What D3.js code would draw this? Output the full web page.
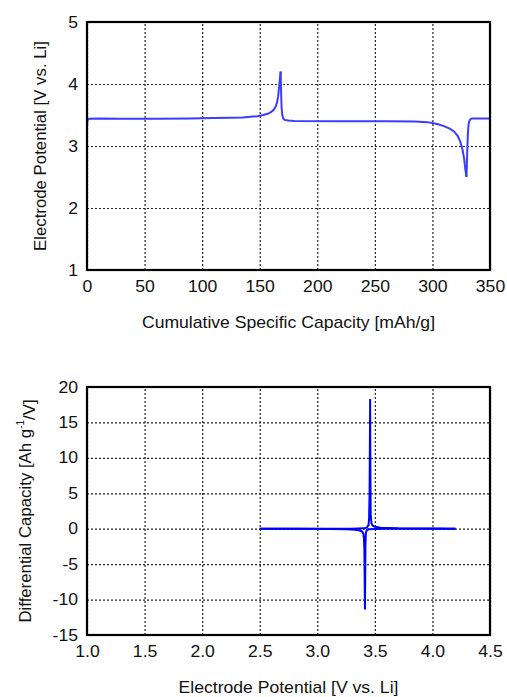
<!DOCTYPE html>
<html><head><meta charset="utf-8">
<script src="https://cdn.jsdelivr.net/npm/d3@7"></script>
<style>
body{margin:0;background:#fff;}
text{font-family:"Liberation Sans",Arial,Helvetica,sans-serif;fill:#111;}
</style></head>
<body><svg id="c" width="507" height="697"></svg>
<script>
// ---- Data: top panel (potential vs cumulative capacity) ----
const capCharge1 = [0, 0.3, 1, 3, 10, 30, 60, 90, 110, 125, 135, 142, 148, 153, 157, 160, 162, 164, 165, 166, 167, 167.6, 168.2];
const vCharge1   = [3.30, 3.40, 3.435, 3.44, 3.445, 3.44, 3.44, 3.445, 3.45, 3.455, 3.46, 3.47, 3.48, 3.50, 3.52, 3.55, 3.58, 3.64, 3.70, 3.80, 3.98, 4.10, 4.20];
const capDischarge = [168.2, 168.6, 169, 169.6, 170.5, 172, 175, 180, 220, 260, 285, 295, 300, 305, 310, 315, 319, 322, 324, 326, 327.5, 328.6, 329.6];
const vDischarge   = [4.20, 3.85, 3.62, 3.50, 3.44, 3.42, 3.41, 3.405, 3.40, 3.40, 3.395, 3.385, 3.37, 3.35, 3.32, 3.28, 3.23, 3.16, 3.08, 2.95, 2.80, 2.62, 2.50];
const capCharge2 = [329.6, 330.2, 330.8, 331.4, 332.2, 333.2, 334.5, 340, 350];
const vCharge2   = [2.50, 2.90, 3.20, 3.35, 3.41, 3.435, 3.445, 3.445, 3.445];

// ---- Data: bottom panel (dQ/dV vs potential) ----
const vDqCharge  = [2.5, 3.0, 3.3, 3.40, 3.43, 3.445, 3.450, 3.454, 3.457, 3.459, 3.461, 3.464, 3.47, 3.48, 3.50, 3.55, 3.7, 4.0, 4.2];
const dqCharge   = [0, 0, 0.01, 0.05, 0.15, 0.5, 1.5, 5, 12, 18.3, 9, 2, 0.8, 0.45, 0.28, 0.14, 0.05, 0.02, 0];
const vDqDischarge = [4.2, 3.8, 3.6, 3.5, 3.45, 3.43, 3.422, 3.418, 3.416, 3.414, 3.412, 3.409, 3.405, 3.40, 3.39, 3.37, 3.33, 3.25, 3.1, 2.8, 2.5];
const dqDischarge  = [0, 0, -0.01, -0.03, -0.08, -0.2, -0.6, -2.5, -7, -11.4, -8, -3, -1.3, -0.7, -0.4, -0.25, -0.14, -0.07, -0.03, -0.01, 0];

// ---- Axis ticks & labels ----
const topXTicks = [0, 50, 100, 150, 200, 250, 300, 350];
const topYTicks = [1, 2, 3, 4, 5];
const botXTicks = [1.0, 1.5, 2.0, 2.5, 3.0, 3.5, 4.0, 4.5];
const botYTicks = [-15, -10, -5, 0, 5, 10, 15, 20];
const topXTitle = "Cumulative Specific Capacity [mAh/g]";
const topYTitle = "Electrode Potential [V vs. Li]";
const botXTitle = "Electrode Potential [V vs. Li]";

const svg = d3.select("#c");
const L = 87, R = 490;
const SX = 1.1;      // horizontal stretch of the reference text
const FS = "16px";
const FSY = "16.8px";

function panel(top, bottom, xDom, yDom, xTicks, yTicks, xFmt, yFmt, series, color, yTitleX, yTitleFn) {
  const x = d3.scaleLinear().domain(xDom).range([L, R]);
  const y = d3.scaleLinear().domain(yDom).range([bottom, top]);
  const g = svg.append("g");
  // grid
  g.append("g").attr("transform", `translate(0,${bottom})`)
    .call(d3.axisBottom(x).tickValues(xTicks).tickSize(-(bottom - top)).tickFormat(""))
    .call(s => s.select(".domain").remove())
    .call(s => s.selectAll("line").attr("stroke", "#222").attr("stroke-width", 1.2).attr("stroke-dasharray", "2,2"));
  g.append("g").attr("transform", `translate(${L},0)`)
    .call(d3.axisLeft(y).tickValues(yTicks).tickSize(-(R - L)).tickFormat(""))
    .call(s => s.select(".domain").remove())
    .call(s => s.selectAll("line").attr("stroke", "#222").attr("stroke-width", 1.2).attr("stroke-dasharray", "2,2"));
  // tick labels
  g.append("g").attr("transform", `translate(0,${bottom})`)
    .call(d3.axisBottom(x).tickValues(xTicks).tickSize(0).tickPadding(11).tickFormat(xFmt))
    .call(s => s.select(".domain").remove())
    .call(s => s.selectAll("text").style("font-size", FS).attr("fill", "#111").attr("transform", `scale(${SX},1)`));
  g.append("g").attr("transform", `translate(${L},0)`)
    .call(d3.axisLeft(y).tickValues(yTicks).tickSize(0).tickPadding(9).tickFormat(yFmt))
    .call(s => s.select(".domain").remove())
    .call(s => s.selectAll("text").style("font-size", FS).attr("fill", "#111")
      .attr("x", -9 / SX).attr("transform", `scale(${SX},1)`));
  // lines
  const line = d3.line().x(d => x(d[0])).y(d => y(d[1]));
  const clipId = "clip" + top;
  svg.append("clipPath").attr("id", clipId).append("rect").attr("x", L).attr("y", top).attr("width", R - L).attr("height", bottom - top);
  series.forEach(s => {
    g.append("path").datum(s).attr("d", line).attr("fill", "none")
      .attr("stroke", color).attr("stroke-width", 2).attr("clip-path", `url(#${clipId})`);
  });
  // frame
  g.append("rect").attr("x", L).attr("y", top).attr("width", R - L).attr("height", bottom - top)
    .attr("fill", "none").attr("stroke", "#000").attr("stroke-width", 2.2);
  yTitleFn(g, yTitleX, (top + bottom) / 2);
  return {x, y, g};
}

const zip = (a, b) => a.map((v, i) => [v, b[i]]);
const xTitle = (g, ty, txt) => g.append("text").attr("transform", `translate(${(L + R) / 2},${ty}) scale(${SX},1)`)
  .attr("text-anchor", "middle").attr("dominant-baseline", "central").style("font-size", FS).text(txt);

const p1 = panel(22, 270, [0, 350], [1, 5], topXTicks, topYTicks, d3.format("d"), d3.format("d"),
  [zip(capCharge1, vCharge1), zip(capDischarge, vDischarge), zip(capCharge2, vCharge2)], "#3c3cff", 40,
  (g, cx, cy) => g.append("text").attr("transform", `translate(${cx},${cy}) rotate(-90)`).attr("text-anchor", "middle")
     .attr("dominant-baseline", "central").style("font-size", FSY).text(topYTitle));
xTitle(p1.g, 323, topXTitle);

const p2 = panel(387, 635, [1, 4.5], [-15, 20], botXTicks, botYTicks, d3.format(".1f"), d => String(d),
  [zip(vDqDischarge, dqDischarge), zip(vDqCharge, dqCharge)], "#0000ff", 25,
  (g, cx, cy) => {
    const t = g.append("text").attr("transform", `translate(${cx},${cy}) rotate(-90)`).attr("text-anchor", "middle")
      .attr("dominant-baseline", "central").style("font-size", FSY);
    t.append("tspan").text("Differential Capacity [Ah g");
    t.append("tspan").attr("dy", "-0.55em").style("font-size", "10px").text("-1");
    t.append("tspan").attr("dy", "0.55em").text("/V]");
  });
xTitle(p2.g, 688, botXTitle);
</script></body></html>
